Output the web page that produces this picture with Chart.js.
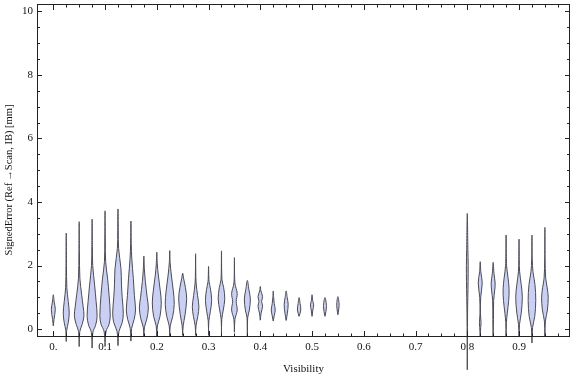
<!DOCTYPE html>
<html>
<head>
<meta charset="utf-8">
<script src="https://cdn.jsdelivr.net/npm/chart.js@4.4.1/dist/chart.umd.min.js"></script>
<style>
  html, body { margin: 0; padding: 0; background: #fff; }
  #wrap { width: 576px; height: 377px; }
</style>
</head>
<body>
<div id="wrap"><canvas id="violins" width="576" height="377"></canvas></div>
<script>
// visibility bins, one violin each
const visibility = [
  0, 0.025, 0.05, 0.075, 0.1, 0.125, 0.15, 0.175, 0.2, 0.225, 0.25, 0.275,
  0.3, 0.325, 0.35, 0.375, 0.4, 0.425, 0.45, 0.475, 0.5, 0.525, 0.55,
  0.8, 0.825, 0.85, 0.875, 0.9, 0.925, 0.95
]

// violin outlines: [signed error, relative density] from min to max
const profiles = [
  [[0.10,0],[0.30,0.7],[0.62,2.0],[0.85,0.9],[1.08,0]],
  [[-0.39,0],[-0.05,0.4],[0.20,2.0],[0.50,3.0],[0.87,2.0],[1.30,0.6],[2.00,0.25],[3.02,0]],
  [[-0.55,0],[-0.08,0.6],[0.15,3.0],[0.42,4.8],[0.70,4.0],[1.08,2.5],[1.60,0.7],[2.40,0.25],[3.38,0]],
  [[-0.60,0],[-0.10,0.8],[0.12,3.5],[0.40,5.0],[0.87,4.0],[1.39,2.5],[2.00,0.6],[2.60,0.25],[3.46,0]],
  [[-0.55,0],[-0.07,1.0],[0.15,4.0],[0.42,5.2],[1.08,4.0],[1.60,2.5],[2.12,0.6],[2.80,0.25],[3.72,0]],
  [[-0.52,0],[-0.07,1.0],[0.20,4.2],[0.50,5.3],[1.00,4.2],[1.39,3.5],[1.90,3.0],[2.54,0.6],[3.10,0.25],[3.78,0]],
  [[-0.38,0],[0.02,0.7],[0.30,3.2],[0.60,4.6],[1.05,3.5],[1.60,2.4],[2.20,0.9],[2.70,0.3],[3.40,0]],
  [[-0.25,0],[0.06,0.6],[0.32,3.0],[0.66,4.5],[1.00,3.3],[1.50,1.5],[1.90,0.5],[2.30,0]],
  [[-0.25,0],[0.10,0.6],[0.40,3.2],[0.82,4.5],[1.20,3.5],[1.70,1.5],[2.05,0.5],[2.42,0]],
  [[-0.22,0],[0.10,0.5],[0.40,3.0],[0.78,4.5],[1.20,3.6],[1.70,1.6],[2.10,0.4],[2.47,0]],
  [[-0.20,0],[0.10,0.5],[0.45,2.4],[0.95,4.0],[1.30,2.8],[1.60,0.9],[1.76,0]],
  [[-0.20,0],[0.10,0.4],[0.40,2.2],[0.70,3.3],[1.05,2.0],[1.45,0.5],[1.85,0.15],[2.37,0]],
  [[-0.20,0],[0.25,0.3],[0.55,1.8],[0.90,3.1],[1.25,2.0],[1.50,0.5],[1.97,0]],
  [[-0.20,0],[0.30,0.3],[0.60,1.8],[0.95,3.3],[1.30,2.2],[1.55,0.5],[2.46,0]],
  [[-0.10,0],[0.30,0.5],[0.60,2.8],[0.87,1.8],[1.12,2.8],[1.45,0.5],[2.25,0]],
  [[-0.22,0],[0.35,0.3],[0.60,2.0],[0.95,3.0],[1.25,1.5],[1.53,0]],
  [[0.28,0],[0.50,0.8],[0.72,2.3],[0.87,1.3],[1.02,2.3],[1.20,0.6],[1.34,0]],
  [[0.25,0],[0.42,1.0],[0.60,2.0],[0.80,1.0],[1.00,0.4],[1.20,0]],
  [[0.27,0],[0.50,1.2],[0.78,2.0],[1.00,1.0],[1.20,0]],
  [[0.40,0],[0.60,1.7],[0.80,1.0],[0.99,0]],
  [[0.40,0],[0.60,0.8],[0.76,1.6],[0.90,0.6],[1.08,0]],
  [[0.40,0],[0.70,1.5],[0.99,0]],
  [[0.45,0],[0.75,1.2],[1.02,0]],
  [[-1.28,0],[0.50,0.3],[1.50,0.8],[2.00,0.9],[2.50,0.6],[3.64,0]],
  [[-0.23,0],[0.05,0.5],[0.20,0.8],[0.50,0.2],[1.00,0.5],[1.45,2.0],[1.80,0.6],[2.12,0]],
  [[-0.23,0],[0.30,0.3],[0.90,0.5],[1.20,1.5],[1.45,2.0],[1.75,0.8],[2.10,0]],
  [[-0.23,0],[0.20,0.3],[0.50,1.2],[0.90,2.6],[1.25,3.0],[1.60,2.0],[2.00,0.5],[2.96,0]],
  [[-0.25,0],[0.15,0.5],[0.50,2.2],[1.00,3.3],[1.40,2.2],[1.80,0.6],[2.20,0.2],[2.83,0]],
  [[-0.44,0],[0.05,0.6],[0.40,2.8],[0.90,3.8],[1.40,3.0],[1.80,1.0],[2.20,0.3],[2.96,0]],
  [[-0.23,0],[0.25,0.5],[0.60,2.5],[1.00,3.3],[1.30,2.3],[1.60,0.8],[2.20,0.2],[3.20,0]]
]

const xTickLabels = [0, 0.1, 0.2, 0.3, 0.4, 0.5, 0.6, 0.7, 0.8, 0.9]
const yTickLabels = [0, 2, 4, 6, 8, 10]
const yTitle = 'SignedError (Ref\u2009\u2192Scan, IB) [mm]'

const halfWidth = 0.00193 // x units per density unit
const serifFamily = "'Liberation Serif', 'Times New Roman', serif"
const serif = { family: serifFamily, size: 11 }
const ink = '#111'

const datasets = visibility.map((v, i) => {
  const k = profiles[i]
  const right = k.map(([y, d]) => ({ x: v + d * halfWidth, y: y }))
  const left = k.slice(0, -1).reverse().map(([y, d]) => ({ x: v - d * halfWidth, y: y }))
  return {
    data: right.concat(left),
    showLine: true,
    fill: 'shape',
    backgroundColor: 'rgb(202,208,243)',
    borderColor: 'rgb(75,75,85)',
    borderWidth: 1,
    pointRadius: 0,
    tension: 0.35,
    clip: false
  }
})

// Mathematica-style frame with inward ticks on every side, plus the y title
const frameTicks = {
  id: 'frameTicks',
  afterDatasetsDraw(chart) {
    const { ctx, chartArea: a, scales: { x, y } } = chart
    ctx.save()
    ctx.strokeStyle = '#222'
    ctx.lineWidth = 1
    ctx.strokeRect(a.left + 0.5, a.top + 0.5, a.right - a.left - 1, a.bottom - a.top - 1)
    ctx.beginPath()
    for (let i = 0; i <= 39; i++) {
      const px = Math.round(x.getPixelForValue(i * 0.025)) + 0.5
      const len = i % 4 === 0 ? 6 : 3.5
      ctx.moveTo(px, a.bottom); ctx.lineTo(px, a.bottom - len)
      ctx.moveTo(px, a.top); ctx.lineTo(px, a.top + len)
    }
    for (let i = 0; i <= 20; i++) {
      const py = Math.round(y.getPixelForValue(i * 0.5)) + 0.5
      const len = i % 4 === 0 ? 5 : 3
      ctx.moveTo(a.left, py); ctx.lineTo(a.left + len, py)
      ctx.moveTo(a.right, py); ctx.lineTo(a.right - len, py)
    }
    ctx.stroke()

    ctx.translate(9, 180)
    ctx.rotate(-Math.PI / 2)
    ctx.fillStyle = ink
    ctx.font = '10.5px ' + serifFamily
    ctx.textAlign = 'center'
    ctx.textBaseline = 'middle'
    ctx.fillText(yTitle, 0, 0)
    ctx.restore()
  }
}

new Chart(document.querySelector('#violins'), {
  type: 'scatter',
  data: { datasets: datasets },
  plugins: [frameTicks],
  options: {
    responsive: false,
    animation: false,
    layout: { padding: { top: 4, right: 6, left: 0, bottom: 0 } },
    plugins: {
      legend: { display: false },
      tooltip: { enabled: false }
    },
    elements: { line: { capBezierPoints: false } },
    scales: {
      x: {
        type: 'linear',
        min: -0.0315,
        max: 0.9985,
        afterFit: (s) => { s.height = 40; s.paddingLeft = 0; s.paddingRight = 0 },
        afterBuildTicks: (s) => { s.ticks = xTickLabels.map(v => ({ value: v })) },
        grid: { display: false, drawTicks: false },
        border: { display: false },
        ticks: {
          padding: 4,
          color: ink,
          font: serif,
          maxRotation: 0,
          autoSkip: false,
          callback: (v) => v === 0 ? '0.' : v.toFixed(1)
        },
        title: {
          display: true,
          text: 'Visibility',
          color: ink,
          font: serif,
          padding: { top: 0, bottom: 1 }
        }
      },
      y: {
        min: -0.25,
        max: 10.23,
        afterFit: (s) => { s.width = 37; s.paddingTop = 0; s.paddingBottom = 0 },
        afterBuildTicks: (s) => { s.ticks = yTickLabels.map(v => ({ value: v })) },
        grid: { display: false, drawTicks: false },
        border: { display: false },
        ticks: {
          padding: 4,
          color: ink,
          font: serif,
          callback: (v) => String(v)
        },
        title: { display: false }
      }
    }
  }
})
</script>
</body>
</html>
